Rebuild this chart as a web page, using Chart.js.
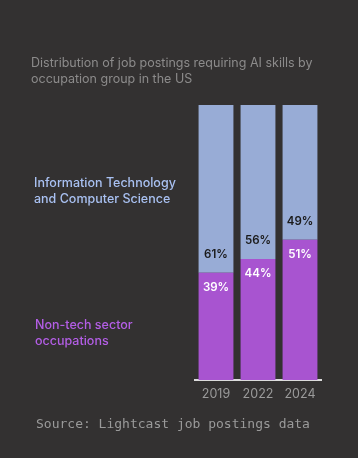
<!DOCTYPE html>
<html>
<head>
<meta charset="utf-8">
<script src="https://cdn.jsdelivr.net/npm/chart.js@4"></script>
<style>
  html, body { margin: 0; padding: 0; background: #333131; }
  #wrap { position: relative; width: 358px; height: 458px; overflow: hidden; }
  canvas { position: absolute; left: 0; top: 0; }
  .txt { position: absolute; font-family: Inter, "Noto Sans", sans-serif; }
  #title { left: 31px; top: 55px; font-size: 12.5px; line-height: 16px; color: #8c8b8b; }
  #lgIT { left: 34px; top: 175px; font-size: 12.5px; line-height: 16px; color: #a9c1f2; font-weight: 500; }
  #lgNT { left: 35px; top: 317px; font-size: 12.5px; line-height: 16px; color: #b45ee6; font-weight: 500; }
  #source { left: 36px; top: 416px; font-family: "DejaVu Sans Mono", monospace; font-size: 13px; color: #9a9a9a; }
</style>
</head>
<body>
<div id="wrap">
  <canvas id="chart" width="358" height="458"></canvas>
  <div class="txt" id="title">Distribution of job postings requiring AI skills by<br>occupation group in the US</div>
  <div class="txt" id="lgIT">Information Technology<br>and Computer Science</div>
  <div class="txt" id="lgNT">Non-tech sector<br>occupations</div>
  <div class="txt" id="source">Source: Lightcast job postings data</div>
</div>
<script>
const years = ["2019", "2022", "2024"];
const nonTech = [39, 44, 51];
const itCs = [61, 56, 49];

const pctLabels = {
  id: "pctLabels",
  afterDatasetsDraw(chart) {
    const ctx = chart.ctx;
    ctx.save();
    ctx.font = "600 11.5px Inter, 'Noto Sans', sans-serif";
    ctx.textAlign = "center";
    ctx.textBaseline = "middle";
    chart.getDatasetMeta(0).data.forEach((bar, i) => {
      ctx.fillStyle = "#ffffff";
      ctx.fillText(nonTech[i] + "%", bar.x, bar.y + 15);
    });
    chart.getDatasetMeta(1).data.forEach((bar, i) => {
      ctx.fillStyle = "#1a1a1a";
      ctx.fillText(itCs[i] + "%", bar.x, bar.base - 18);
    });
    ctx.restore();
  },
};

new Chart(document.getElementById("chart"), {
  type: "bar",
  data: {
    labels: years,
    datasets: [
      {
        label: "Non-tech sector occupations",
        data: nonTech,
        backgroundColor: "#a854d0",
        barPercentage: 0.83,
        categoryPercentage: 1,
      },
      {
        label: "Information Technology and Computer Science",
        data: itCs,
        backgroundColor: "#98acd6",
        barPercentage: 0.83,
        categoryPercentage: 1,
      },
    ],
  },
  options: {
    responsive: false,
    animation: false,
    layout: { padding: { left: 195, right: 37, top: 105, bottom: 55 } },
    plugins: { legend: { display: false }, tooltip: { enabled: false } },
    scales: {
      x: {
        stacked: true,
        grid: { display: false, drawTicks: false },
        border: { color: "#dcdcdc", width: 2 },
        ticks: { color: "#9a9a9a", font: { family: "Inter", size: 12.5 }, padding: 7 },
        afterFit(scale) { scale.height = 23; },
      },
      y: { stacked: true, display: false, min: 0, max: 100 },
    },
  },
  plugins: [pctLabels],
});
</script>
</body>
</html>
